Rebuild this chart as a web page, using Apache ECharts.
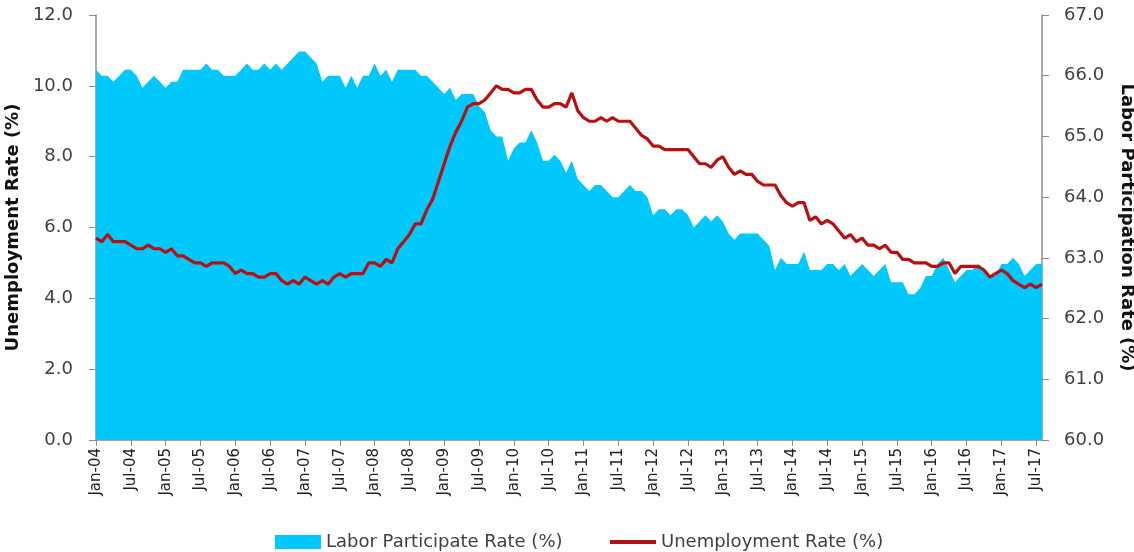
<!DOCTYPE html>
<html>
<head>
<meta charset="utf-8">
<script src="https://cdn.jsdelivr.net/npm/echarts@6/dist/echarts.min.js"></script>
<style>
  html, body { margin: 0; padding: 0; background: #fff; }
  #main { width: 1134px; height: 552px; }
</style>
</head>
<body>
<div id="main"></div>
<script>
// months Jan-04 .. Aug-17
var monthNames = ['Jan', 'Feb', 'Mar', 'Apr', 'May', 'Jun', 'Jul', 'Aug', 'Sep', 'Oct', 'Nov', 'Dec'];
var years = ['04', '05', '06', '07', '08', '09', '10', '11', '12', '13', '14', '15', '16', '17'];

var unemployment = [
  5.7, 5.6, 5.8, 5.6, 5.6, 5.6, 5.5, 5.4, 5.4, 5.5, 5.4, 5.4,
  5.3, 5.4, 5.2, 5.2, 5.1, 5.0, 5.0, 4.9, 5.0, 5.0, 5.0, 4.9,
  4.7, 4.8, 4.7, 4.7, 4.6, 4.6, 4.7, 4.7, 4.5, 4.4, 4.5, 4.4,
  4.6, 4.5, 4.4, 4.5, 4.4, 4.6, 4.7, 4.6, 4.7, 4.7, 4.7, 5.0,
  5.0, 4.9, 5.1, 5.0, 5.4, 5.6, 5.8, 6.1, 6.1, 6.5, 6.8, 7.3,
  7.8, 8.3, 8.7, 9.0, 9.4, 9.5, 9.5, 9.6, 9.8, 10.0, 9.9, 9.9,
  9.8, 9.8, 9.9, 9.9, 9.6, 9.4, 9.4, 9.5, 9.5, 9.4, 9.8, 9.3,
  9.1, 9.0, 9.0, 9.1, 9.0, 9.1, 9.0, 9.0, 9.0, 8.8, 8.6, 8.5,
  8.3, 8.3, 8.2, 8.2, 8.2, 8.2, 8.2, 8.0, 7.8, 7.8, 7.7, 7.9,
  8.0, 7.7, 7.5, 7.6, 7.5, 7.5, 7.3, 7.2, 7.2, 7.2, 6.9, 6.7,
  6.6, 6.7, 6.7, 6.2, 6.3, 6.1, 6.2, 6.1, 5.9, 5.7, 5.8, 5.6,
  5.7, 5.5, 5.5, 5.4, 5.5, 5.3, 5.3, 5.1, 5.1, 5.0, 5.0, 5.0,
  4.9, 4.9, 5.0, 5.0, 4.7, 4.9, 4.9, 4.9, 4.9, 4.8, 4.6, 4.7,
  4.8, 4.7, 4.5, 4.4, 4.3, 4.4, 4.3, 4.4
];

var participation = [
  66.1, 66.0, 66.0, 65.9, 66.0, 66.1, 66.1, 66.0, 65.8, 65.9, 66.0, 65.9,
  65.8, 65.9, 65.9, 66.1, 66.1, 66.1, 66.1, 66.2, 66.1, 66.1, 66.0, 66.0,
  66.0, 66.1, 66.2, 66.1, 66.1, 66.2, 66.1, 66.2, 66.1, 66.2, 66.3, 66.4,
  66.4, 66.3, 66.2, 65.9, 66.0, 66.0, 66.0, 65.8, 66.0, 65.8, 66.0, 66.0,
  66.2, 66.0, 66.1, 65.9, 66.1, 66.1, 66.1, 66.1, 66.0, 66.0, 65.9, 65.8,
  65.7, 65.8, 65.6, 65.7, 65.7, 65.7, 65.5, 65.4, 65.1, 65.0, 65.0, 64.6,
  64.8, 64.9, 64.9, 65.1, 64.9, 64.6, 64.6, 64.7, 64.6, 64.4, 64.6, 64.3,
  64.2, 64.1, 64.2, 64.2, 64.1, 64.0, 64.0, 64.1, 64.2, 64.1, 64.1, 64.0,
  63.7, 63.8, 63.8, 63.7, 63.8, 63.8, 63.7, 63.5, 63.6, 63.7, 63.6, 63.7,
  63.6, 63.4, 63.3, 63.4, 63.4, 63.4, 63.4, 63.3, 63.2, 62.8, 63.0, 62.9,
  62.9, 62.9, 63.1, 62.8, 62.8, 62.8, 62.9, 62.9, 62.8, 62.9, 62.7, 62.8,
  62.9, 62.8, 62.7, 62.8, 62.9, 62.6, 62.6, 62.6, 62.4, 62.4, 62.5, 62.7,
  62.7, 62.9, 63.0, 62.8, 62.6, 62.7, 62.8, 62.8, 62.9, 62.8, 62.7, 62.7,
  62.9, 62.9, 63.0, 62.9, 62.7, 62.8, 62.9, 62.9
];

var months = [];
years.forEach(function (y) {
  monthNames.forEach(function (m) {
    months.push(m + '-' + y);
  });
});
months = months.slice(0, unemployment.length);

var fontName = 'DejaVu Sans';
var textColor = '#404040';
var cyan = '#00C8FA';
var red = '#B81010';

var myChart = echarts.init(document.getElementById('main'));

function everySix(idx) {
  return idx % 6 === 0;
}

var option = {
  animation: false,
  grid: {
    left: 96,
    right: 92,
    top: 15,
    bottom: 112,
    outerBoundsMode: 'none'
  },
  legend: [
    {
      left: 270,
      top: 528,
      itemWidth: 46,
      itemHeight: 14,
      textStyle: { fontFamily: fontName, fontSize: 18, color: textColor },
      data: [{ name: 'Labor Participate Rate (%)', icon: 'rect' }]
    },
    {
      left: 605,
      top: 528,
      itemWidth: 46,
      itemHeight: 4,
      textStyle: { fontFamily: fontName, fontSize: 18, color: textColor },
      data: [{ name: 'Unemployment Rate (%)', icon: 'rect', itemStyle: { color: red } }]
    }
  ],
  xAxis: {
    type: 'category',
    boundaryGap: false,
    data: months,
    axisLine: { lineStyle: { color: '#8c8c8c', width: 1.5 } },
    axisTick: {
      interval: function (idx) { return everySix(idx); },
      length: 6,
      lineStyle: { color: '#8c8c8c' }
    },
    axisLabel: {
      interval: function (idx) { return everySix(idx); },
      rotate: 90,
      margin: 8,
      fontFamily: fontName,
      fontSize: 15,
      color: '#222'
    },
    splitLine: { show: false }
  },
  yAxis: [
    {
      type: 'value',
      min: 0,
      max: 12,
      interval: 2,
      name: 'Unemployment Rate (%)',
      nameLocation: 'middle',
      nameGap: 74,
      nameRotate: 90,
      nameTextStyle: { fontFamily: fontName, fontSize: 18, fontWeight: 'bold', color: '#111' },
      axisLine: { show: true, lineStyle: { color: '#8c8c8c', width: 1.5 } },
      axisTick: { show: true, length: 7, lineStyle: { color: '#8c8c8c' } },
      axisLabel: {
        margin: 23,
        fontFamily: fontName,
        fontSize: 18,
        color: textColor,
        formatter: function (v) { return v.toFixed(1); }
      },
      splitLine: { show: false }
    },
    {
      type: 'value',
      min: 60,
      max: 67,
      interval: 1,
      position: 'right',
      name: 'Labor Participation Rate (%)',
      nameLocation: 'middle',
      nameGap: 76,
      nameRotate: -90,
      nameTextStyle: { fontFamily: fontName, fontSize: 18, fontWeight: 'bold', color: '#111' },
      axisLine: { show: true, lineStyle: { color: '#8c8c8c', width: 1.5 } },
      axisTick: { show: true, length: 7, lineStyle: { color: '#8c8c8c' } },
      axisLabel: {
        margin: 22,
        fontFamily: fontName,
        fontSize: 18,
        color: textColor,
        formatter: function (v) { return v.toFixed(1); }
      },
      splitLine: { show: false }
    }
  ],
  series: [
    {
      name: 'Labor Participate Rate (%)',
      type: 'line',
      yAxisIndex: 1,
      data: participation,
      symbol: 'none',
      itemStyle: { color: cyan },
      lineStyle: { width: 0, color: cyan },
      areaStyle: { color: cyan, opacity: 1, origin: 'start' },
      z: 1
    },
    {
      name: 'Unemployment Rate (%)',
      type: 'line',
      yAxisIndex: 0,
      data: unemployment,
      symbol: 'none',
      itemStyle: { color: red },
      lineStyle: { width: 3.2, color: red },
      z: 3
    }
  ]
};

myChart.setOption(option);
</script>
</body>
</html>
